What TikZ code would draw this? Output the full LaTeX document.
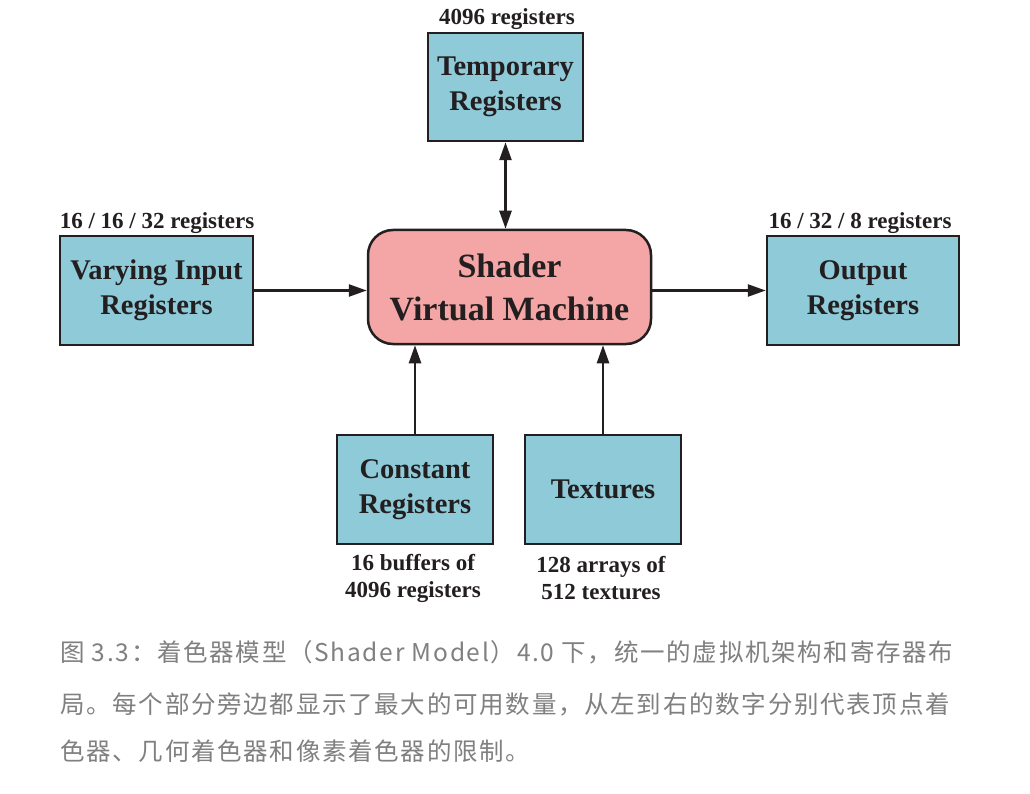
\documentclass[tikz,border=0pt]{standalone}
\usepackage{fontspec}
\setmainfont{Liberation Serif}
\newfontfamily\cjk{Noto Sans CJK SC}[LetterSpace=7]
\usetikzlibrary{arrows.meta}
\definecolor{ink}{HTML}{231F20}
\definecolor{boxblue}{HTML}{8FCAD8}
\definecolor{boxpink}{HTML}{F4A6A6}
\definecolor{capgray}{HTML}{808080}
\tikzset{
  regbox/.style={draw=ink, line width=2.5pt, fill=boxblue, inner sep=0pt,
    align=center, text=ink, font=\bfseries\fontsize{28.5}{35}\selectfont},
  vmbox/.style={draw=ink, line width=2.5pt, fill=boxpink, inner sep=0pt,
    rounded corners=25pt, align=center, text=ink,
    font=\bfseries\fontsize{34}{43}\selectfont},
  cntlabel/.style={inner sep=0pt, align=center, text=ink,
    font=\bfseries\fontsize{23}{27}\selectfont},
  arr/.style={draw=ink, line width=2.5pt, -{Triangle[length=18pt,width=12pt]}},
  biarr/.style={draw=ink, line width=2.5pt, {Triangle[length=18pt,width=12pt]}-{Triangle[length=18pt,width=12pt]}},
  captext/.style={inner sep=0pt, anchor=base west, text=capgray,
    font=\cjk\fontsize{24.5}{30}\selectfont}
}
\begin{document}
\begin{tikzpicture}[x=1pt,y=-1pt]
\fill[white] (0,0) rectangle (1030,794);
\useasboundingbox (0,0) rectangle (1030,794);

\node[regbox, minimum width=155pt, minimum height=108pt] (temp) at (505.5,87) {Temporary\\Registers};
\node[vmbox, minimum width=283pt, minimum height=114pt] (svm) at (509.5,287) {Shader\\Virtual Machine};
\node[regbox, minimum width=193pt, minimum height=109pt] (vary) at (156.5,290.5) {Varying Input\\Registers};
\node[regbox, minimum width=192pt, minimum height=109pt] (out) at (863,290.5) {Output\\Registers};
\node[regbox, minimum width=156pt, minimum height=109pt] (const) at (415,489.5) {Constant\\Registers};
\node[regbox, minimum width=156pt, minimum height=109pt] (tex) at (603,489.5) {Textures};

\node[cntlabel] (ltemp) at (507,19) {4096 registers};
\node[cntlabel] (lvary) at (157,223) {16 / 16 / 32 registers};
\node[cntlabel] (lout) at (860,223) {16 / 32 / 8 registers};
\node[cntlabel] (lconst) at (413,578.5) {16 buffers of\\4096 registers};
\node[cntlabel] (ltex) at (601,578.5) {128 arrays of\\512 textures};

\draw[biarr] (temp.south) -- (temp.south |- svm.north);
\draw[arr] (vary.east) -- (vary.east -| svm.west);
\draw[arr] (svm.east |- out.west) -- (out.west);
\draw[arr] (const.north) -- (const.north |- svm.south);
\draw[arr] (tex.north) -- (tex.north |- svm.south);

\node[captext] (cap1) at (60,661) {图 3.3：着色器模型（Shader Model）4.0 下，统一的虚拟机架构和寄存器布};
\node[captext] (cap2) at (60,713) {局。每个部分旁边都显示了最大的可用数量，从左到右的数字分别代表顶点着};
\node[captext] (cap3) at (60,760) {色器、几何着色器和像素着色器的限制。};
\end{tikzpicture}
\end{document}
